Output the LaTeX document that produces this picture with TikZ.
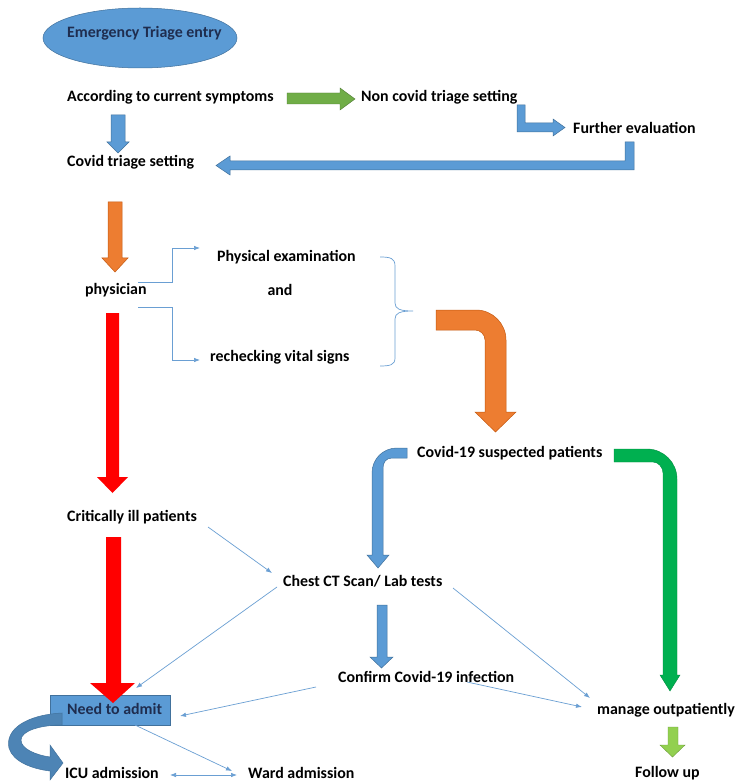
\documentclass[tikz,border=0pt]{standalone}
\usepackage{fontspec}
\setmainfont{Carlito}
\usetikzlibrary{arrows.meta}
\definecolor{obl}{HTML}{5B9BD5}
\definecolor{obld}{HTML}{41719C}
\definecolor{oor}{HTML}{ED7D31}
\definecolor{oord}{HTML}{C55A11}
\definecolor{ogr}{HTML}{70AD47}
\definecolor{ogr2}{HTML}{00B050}
\definecolor{olg}{HTML}{92D050}
\definecolor{navy}{HTML}{1F2D4F}
\definecolor{conn}{HTML}{6A9FD3}
\begin{document}
\begin{tikzpicture}[x=1pt,y=-1pt,
  lbl/.style={anchor=west,inner sep=0pt,font=\fontsize{15.9}{18}\selectfont\bfseries,text=black},
  conn/.style={draw=conn,line width=0.7pt,-{Latex[length=6pt,width=4.5pt]}},
  blk/.style={fill=obl,draw=obld,line width=0.5pt},
  org/.style={fill=oor,draw=oord,line width=0.5pt},
  grn/.style={fill=ogr,draw=ogr!70!black,line width=0.4pt}]
\useasboundingbox (0,0) rectangle (734,783);
\fill[white] (0,0) rectangle (734,783);
% ellipse
\fill[obl] (140,38) ellipse [x radius=97, y radius=30];
\draw[obld,line width=0.5pt] (140,38) ellipse [x radius=97, y radius=30];
% box
\node[draw=obld,fill=obl,line width=0.6pt,minimum width=120pt,minimum height=30pt,inner sep=0pt] (box) at (110,710) {};
% text nodes
\node[lbl,text=navy] (ent) at (67,33) {Emergency Triage entry};
\node[lbl] (acc) at (67,97) {According to current symptoms};
\node[lbl] (non) at (361,97) {Non covid triage setting};
\node[lbl] (fur) at (573,128) {Further evaluation};
\node[lbl] (cov) at (67,162) {Covid triage setting};
\node[lbl] (phy) at (85,290) {physician};
\node[lbl] (pe) at (217,257) {Physical examination};
\node[lbl,anchor=center] (and) at (280,290) {and};
\node[lbl] (rvs) at (210,357) {rechecking vital signs};
\node[lbl] (c19) at (417,453) {Covid-19 suspected patients};
\node[lbl] (crit) at (67,517) {Critically ill patients};
\node[lbl] (ct) at (283,581) {Chest CT Scan/ Lab tests};
\node[lbl] (conf) at (338,677) {Confirm Covid-19 infection};
\node[lbl] (mng) at (597,710) {manage outpatiently};
\node[lbl,text=navy] (need) at (67,709) {Need to admit};
\node[lbl] (icu) at (65,773) {ICU admission};
\node[lbl] (ward) at (248,773) {Ward admission};
\node[lbl] (fol) at (635,773) {Follow up};
% block arrows
\draw[grn] (287,93)--(340,93)--(340,88)--(355,99)--(340,110)--(340,104)--(287,104)--cycle;
\draw[blk] (111,115)--(125,115)--(125,142)--(129,142)--(118,153)--(107,142)--(111,142)--cycle;
\draw[blk] (517,105)--(525,105)--(525,123)--(553,123)--(553,119)--(565,127.5)--(553,136)--(553,132)--(517,132)--cycle;
\draw[blk] (625,142)--(634,142)--(634,170)--(230,170)--(230,175)--(216,165.5)--(230,156)--(230,161)--(625,161)--cycle;
\draw[org] (108,202)--(122,202)--(122,258)--(128,258)--(115,272)--(102,258)--(108,258)--cycle;
\fill[red] (106,313)--(119,313)--(119,477)--(128,477)--(112.5,493)--(97,477)--(106,477)--cycle;
\fill[red] (106,537)--(121,537)--(121,683)--(135,683)--(113,703)--(90,683)--(106,683)--cycle;
\draw[org] (436,310)--(476,310) .. controls (492.5,310) and (506,323.5) .. (506,340)--(506,412)--(516,412)--(495.5,432)--(475,412)--(485,412)--(485,340) .. controls (485,334.5) and (480.5,330) .. (475,330)--(436,330)--cycle;
\draw[blk] (407,448)--(397,448) .. controls (383,448) and (372,459) .. (372,473)--(372,555)--(367,555)--(378,568)--(389,555)--(383,555)--(383,468) .. controls (383,462.5) and (386,458) .. (392,458)--(407,458)--cycle;
\draw[fill=ogr2,draw=ogr2!80!black,line width=0.4pt] (614,449)--(647,449) .. controls (663.5,449) and (677,462.5) .. (677,479)--(677,675)--(680,675)--(670,691)--(660,675)--(663,675)--(663,473) .. controls (663,467.5) and (658.5,462) .. (653,462)--(614,462)--cycle;
\draw[blk] (377,605)--(387,605)--(387,657)--(393,657)--(381.5,668)--(370,657)--(377,657)--cycle;
\draw[fill=olg,draw=olg!75!black,line width=0.4pt] (668,727)--(678,727)--(678,745)--(685,745)--(672.5,757)--(660,745)--(668,745)--cycle;
\draw[fill=obl!85!black,draw=obld,line width=0.5pt] (62,713) .. controls (25,715) and (5,730) .. (9,748) .. controls (13,762) and (33,769) .. (50,771)--(50,780)--(63,763)--(50,745)--(50,757) .. controls (36,755) and (21,749) .. (21,740) .. controls (21,731) and (40,725) .. (62,725)--cycle;
% connector coordinates
\coordinate (p1) at (138,282);
\coordinate (p1e) at (200,248);
\coordinate (p2) at (138,307);
\coordinate (p2e) at (200,360);
\coordinate (critE) at (208,527);
\coordinate (ctW) at (272,573);
\coordinate (ctL) at (277,587);
\coordinate (needTR) at (136,688);
\coordinate (confL) at (316,687);
\coordinate (needR) at (180,716);
\coordinate (ctR) at (453,588);
\coordinate (mngA) at (590,698);
\coordinate (confR) at (467,682);
\coordinate (mngB) at (582,707);
\coordinate (needB) at (135,725);
\coordinate (wardW) at (232,771);
\coordinate (icuE) at (170,775);
\coordinate (wardL) at (237,775);
\draw[conn] (p1) -- ++(34,0) |- (p1e);
\draw[conn] (p2) -- ++(34,0) |- (p2e);
\draw[conn] (critE) -- (ctW);
\draw[conn] (ctL) -- (needTR);
\draw[conn] (confL) -- (needR);
\draw[conn] (ctR) -- (mngA);
\draw[conn] (confR) -- (mngB);
\draw[conn] (needB) -- (wardW);
\draw[conn,{Latex[length=6pt,width=4.5pt]}-{Latex[length=6pt,width=4.5pt]}] (icuE) -- (wardL);
% brace
\draw[conn,-] (380,257) .. controls (390,257) and (395,258) .. (395,266) -- (395,303) .. controls (395,309) and (400,311) .. (413,311) .. controls (400,311) and (395,313) .. (395,319) -- (395,358) .. controls (395,365) and (390,366) .. (380,366);
\end{tikzpicture}
\end{document}
